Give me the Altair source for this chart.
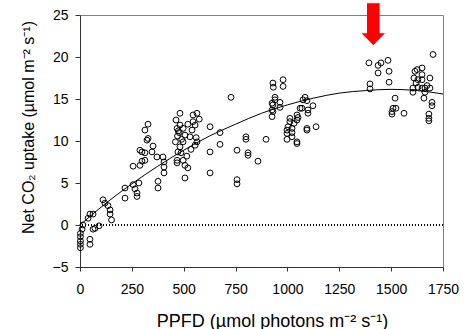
import altair as alt
import pandas as pd

# Scatter data (PPFD, net CO2 uptake)
ppfd = [14, 10, 2, 2, 2, 2, 2, 48, 48, 63, 72, 92, 39, 48, 63,
        111, 120, 135, 145, 145, 152,
        217, 217, 256, 265, 275, 275, 284, 256, 289, 299, 289, 299, 313, 313, 323, 328, 313, 328,
        347, 352, 371, 405, 405, 405, 400, 376, 376,
        482, 468, 474, 482, 478, 497, 506, 545, 564, 545, 555, 530, 497, 482, 472, 487,
        468, 497, 506, 520, 468, 564, 555, 506, 460, 463, 520, 540, 575, 560, 490, 515, 535, 470,
        627, 627, 627, 675, 675, 728, 757, 757, 757, 800, 800, 810, 810, 858, 897,
        930, 932, 979, 979, 940, 940, 926, 930, 964, 964, 926, 930, 926,
        1012, 1012, 998, 998, 998, 1022, 1022, 1032, 1003, 1022, 1046, 1046, 1051, 1070, 1075,
        1085, 1094, 1099, 1099, 1061, 1046, 1046, 1094, 1094, 1123, 1138,
        1393, 1398, 1398, 1437, 1451, 1485, 1437, 1490, 1490, 1519, 1509, 1504, 1504, 1523, 1562,
        1702, 1615, 1625, 1649, 1610, 1649, 1629, 1649, 1687, 1605, 1605, 1629, 1649, 1663, 1687,
        1663, 1658, 1697, 1697, 1682, 1682, 1682, 1620, 1673]
uptake = [0.0, -0.5, -1.0, -1.4, -1.9, -2.3, -2.7, -1.7, -2.3, -0.5, -0.4, -0.1, 0.8, 1.3, 1.3,
          3.0, 2.6, 2.3, 1.8, 1.3, 0.6,
          4.4, 3.2, 4.8, 4.3, 3.8, 3.4, 5.0, 7.0, 7.1, 7.6, 8.9, 8.7, 8.6, 7.7, 10.1, 10.3, 11.3, 12.0,
          8.7, 9.4, 8.1, 7.5, 6.9, 6.2, 8.1, 5.2, 4.4,
          13.3, 11.5, 11.2, 11.9, 11.0, 11.5, 10.7, 13.1, 13.3, 12.3, 11.9, 10.5, 9.9, 9.3, 8.7, 8.6,
          7.7, 7.7, 7.1, 6.8, 7.4, 9.9, 9.5, 5.6, 9.9, 12.5, 12.0, 11.3, 12.6, 10.4, 10.2, 8.2, 9.0, 10.6,
          11.7, 8.7, 6.2, 11.0, 9.6, 15.2, 8.9, 5.4, 4.9, 10.5, 10.2, 8.6, 8.3, 7.6, 10.2,
          16.9, 16.4, 17.3, 16.5, 15.2, 14.9, 14.5, 14.3, 14.6, 14.0, 13.7, 13.5, 12.9,
          12.7, 12.3, 11.3, 10.9, 10.2, 11.5, 11.0, 12.1, 11.7, 10.5, 13.1, 12.5, 12.8, 13.9, 14.9,
          15.2, 14.8, 13.3, 13.7, 13.9, 9.9, 9.7, 11.5, 11.3, 14.2, 11.7,
          19.3, 16.8, 16.2, 19.0, 19.3, 19.6, 18.1, 18.3, 17.0, 15.1, 13.9, 13.5, 13.2, 13.9, 13.3,
          20.3, 18.3, 18.5, 18.7, 17.5, 17.9, 17.3, 17.3, 17.5, 16.3, 15.8, 16.4, 16.3, 16.3, 16.3,
          15.8, 15.1, 14.6, 14.2, 13.2, 12.7, 12.4, 16.9, 16.6]

# Fitted curve
curve_x = [0, 125, 250, 375, 500, 625, 750, 875, 1000, 1125, 1250, 1375, 1500, 1625, 1750]
curve_y = [0.0, 2.6, 4.9, 7.0, 8.9, 10.6, 12.0, 13.3, 14.3, 15.1, 15.7, 16.0, 16.15, 16.0, 15.6]

# Arrow annotation (points at the PPFD of maximum uptake)
arrow_x = [1414]
arrow_y = [23.9]

x_ticks = [0, 250, 500, 750, 1000, 1250, 1500, 1750]
y_ticks = [-5, 0, 5, 10, 15, 20, 25]

pts = pd.DataFrame({"ppfd": ppfd, "uptake": uptake})
crv = pd.DataFrame({"ppfd": curve_x, "uptake": curve_y})
arr = pd.DataFrame({"ppfd": arrow_x, "uptake": arrow_y})

FONT = "Liberation Sans"

xscale = alt.Scale(domain=[0, 1750], nice=False, zero=False)
yscale = alt.Scale(domain=[-5, 25], nice=False, zero=False)

xaxis = alt.Axis(values=x_ticks, format="d", labelOverlap=False, labelFlush=False,
                 title="PPFD (µmol photons m⁻² s⁻¹)", grid=False,
                 tickSize=4, labelPadding=11, labelFontSize=14, labelFont=FONT,
                 labelColor="black", titleFont=FONT, titleFontSize=18,
                 titleFontWeight="normal", titleColor="black",
                 titleX=192, titleY=59, titleBaseline="alphabetic", titleAlign="center",
                 domainColor="#333333", tickColor="#333333")
yaxis = alt.Axis(values=y_ticks, format="d", labelOverlap=False, labelFlush=False,
                 title="Net CO₂ uptake (µmol m⁻² s⁻¹)", grid=False,
                 tickSize=5, labelPadding=7, labelFontSize=14, labelFont=FONT,
                 labelColor="black", titleFont=FONT, titleFontSize=16,
                 titleFontWeight="normal", titleColor="black",
                 titleX=-47, titleY=112, titleAngle=270, titleBaseline="alphabetic",
                 titleAlign="center", domainColor="#333333", tickColor="#333333")

scatter = alt.Chart(pts).mark_point(shape="circle", filled=False, size=34, strokeWidth=1,
                                    color="black", opacity=1).encode(
    x=alt.X("ppfd:Q", scale=xscale, axis=xaxis),
    y=alt.Y("uptake:Q", scale=yscale, axis=yaxis),
)

curve = alt.Chart(crv).mark_line(color="black", strokeWidth=1, interpolate="monotone").encode(
    x=alt.X("ppfd:Q", scale=xscale),
    y=alt.Y("uptake:Q", scale=yscale),
)

zero = alt.Chart(crv).mark_rule(color="black", strokeWidth=1, strokeDash=[1, 2]).encode(
    y=alt.datum(0, scale=yscale)
)

arrow_path = "M-0.274,-0.913L0.274,-0.913L0.274,0.391L0.507,0.391L0,0.913L-0.507,0.391L-0.274,0.391Z"
arrow = alt.Chart(arr).mark_point(shape=arrow_path, filled=True, fill="#ff0000",
                                  strokeWidth=0, size=2116, opacity=1).encode(
    x=alt.X("ppfd:Q", scale=xscale),
    y=alt.Y("uptake:Q", scale=yscale),
)

chart = alt.layer(zero, curve, scatter, arrow).properties(
    width=363, height=252,
    autosize=alt.AutoSizeParams(type="none"),
    padding={"left": 80, "top": 15, "right": 29, "bottom": 62},
    background="white",
).configure_view(stroke="#808080", strokeWidth=1)

chart.save("out.html", embed_options={"renderer": "svg", "actions": False})
